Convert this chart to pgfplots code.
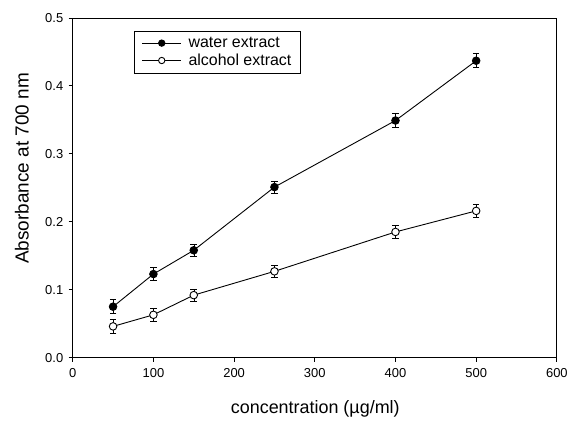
\documentclass[border=0pt]{standalone}
\usepackage{pgfplots}
\pgfplotsset{compat=1.18}
\usepackage{fontspec}
\setmainfont{Liberation Sans}
\begin{document}
\begin{tikzpicture}
\begin{axis}[
  name=ax,
  scale only axis,
  width=486pt, height=341pt,
  xmin=0, xmax=600, ymin=0, ymax=0.5,
  xtick={0,100,...,600},
  ytick={0,0.1,...,0.5},
  yticklabel style={xshift=-2pt, /pgf/number format/.cd, fixed, fixed zerofill, precision=1},
  /pgf/number format/assume math mode=true,
  tick align=outside,
  xtick pos=left, ytick pos=left,
  major tick length=4pt,
  tick style={black, line width=0.8pt},
  axis line style={line width=0.8pt},
  ticklabel style={font=\fontsize{13}{15}\selectfont},
  xticklabel style={yshift=-3pt},
  xlabel={concentration (\textmu g/ml)},
  ylabel={Absorbance at 700 nm},
  xlabel style={font=\fontsize{18}{20}\selectfont, at={(axis description cs:0.501,-0.150)}, anchor=center},
  ylabel style={font=\fontsize{19}{21}\selectfont, at={(axis description cs:-0.105,0.557)}, anchor=center},
  legend style={at={(0.1276,0.962)}, anchor=north west, draw=black, line width=0.8pt,
    font=\fontsize{16}{18}\selectfont, inner xsep=7pt, inner ysep=4pt, row sep=1pt},
  legend cell align=left,
  legend image code/.code={\draw[mark repeat=2, mark phase=2, mark size=3.2pt] plot coordinates {(0pt,0pt)(19.5pt,0pt)(39pt,0pt)};
    \path (44pt,0pt);},
  every axis plot/.append style={line width=0.9pt},
]
\addplot[black, mark=*, mark size=3.8pt, mark options={fill=black},
  error bars/.cd, y dir=both, y explicit, error mark options={rotate=90, mark size=3.3pt, line width=0.9pt}]
  coordinates {
  (50,0.075) +- (0,0.010)
  (100,0.123) +- (0,0.010)
  (150,0.158) +- (0,0.009)
  (250,0.251) +- (0,0.009)
  (400,0.349) +- (0,0.010)
  (500,0.437) +- (0,0.010)
  };
\addlegendentry{water extract}
\addplot[black, mark=*, mark size=3.8pt, mark options={fill=white},
  error bars/.cd, y dir=both, y explicit, error mark options={rotate=90, mark size=3.3pt, line width=0.9pt}]
  coordinates {
  (50,0.046) +- (0,0.010)
  (100,0.063) +- (0,0.010)
  (150,0.092) +- (0,0.009)
  (250,0.127) +- (0,0.009)
  (400,0.185) +- (0,0.009)
  (500,0.216) +- (0,0.009)
  };
\addlegendentry{alcohol extract}
\end{axis}
\path[use as bounding box] ([shift={(-73pt,-60pt)}]ax.south west) rectangle ([shift={(12pt,18pt)}]ax.north east);
\end{tikzpicture}
\end{document}
